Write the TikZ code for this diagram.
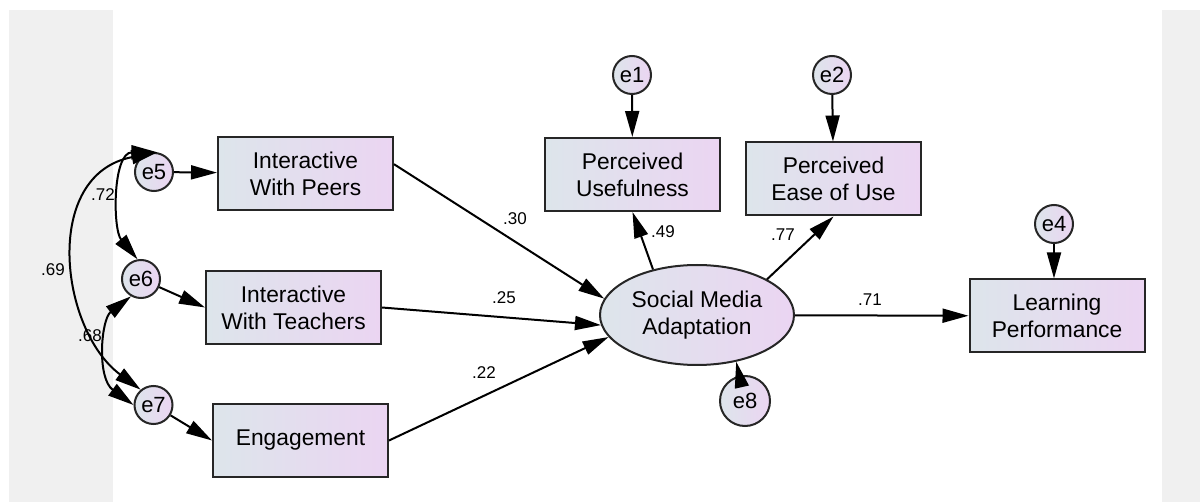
\documentclass[tikz,border=0pt]{standalone}
\usepackage{fontspec}
\setmainfont{Liberation Sans}
\usetikzlibrary{arrows.meta,shapes.geometric,positioning}

\definecolor{boxL}{HTML}{DDE5EB}
\definecolor{boxR}{HTML}{EBD5F2}
\definecolor{pane}{HTML}{F0F0F0}

\tikzset{
  var/.style={draw=black!85,line width=1pt,left color=boxL,right color=boxR,
    minimum width=87.5pt,minimum height=36.5pt,inner sep=0pt,align=center,
    font=\fontsize{11.4}{13.5}\selectfont},
  latent/.style={ellipse,draw=black!85,line width=1pt,left color=boxL,right color=boxR,
    minimum width=97pt,minimum height=50pt,inner sep=0pt,align=center,
    font=\fontsize{11.4}{13.5}\selectfont},
  err/.style={circle,draw=black!85,line width=1pt,left color=boxL,right color=boxR,
    minimum size=19pt,inner sep=0pt,font=\fontsize{11}{12}\selectfont},
  path/.style={line width=1pt,-{Triangle[length=13pt,width=7pt]}},
  cov/.style={line width=1pt,{Triangle[length=13pt,width=7pt]}-{Triangle[length=13pt,width=7pt]}},
  lbl/.style={inner sep=0pt,font=\fontsize{8.5}{9}\selectfont}
}

\begin{document}
\begin{tikzpicture}[x=0.5pt,y=-0.5pt]
\useasboundingbox (0,0) rectangle (1200,502);
\fill[white] (0,0) rectangle (1200,502);
\fill[pane] (9,10) rectangle (113,502);
\fill[pane] (1162,10) rectangle (1200,502);

% observed variables
\node[var] (peers) at (305.5,173.5) {Interactive\\With Peers};
\node[var] (teachers) at (293.5,307.5) {Interactive\\With Teachers};
\node[var] (engage) at (300.5,440.5) {Engagement};
\node[var] (pu) at (632.5,174.5) {Perceived\\Usefulness};
\node[var] (peou) at (833.5,179) {Perceived\\Ease of Use};
\node[var] (lp) at (1057,316) {Learning\\Performance};
% latent
\node[latent] (sma) at (697,315) {Social Media\\Adaptation};
% errors
\node[err] (e1) at (632,75) {e1};
\node[err] (e2) at (832,75) {e2};
\node[err] (e4) at (1054,224) {e4};
\node[err] (e5) at (154,172) {e5};
\node[err] (e6) at (141,279) {e6};
\node[err] (e7) at (153.5,405) {e7};
\node[err,minimum size=25pt] (e8) at (745,401) {e8};

% regressions
\draw[path] (e1) -- (pu);
\draw[path] (e2) -- (peou);
\draw[path] (e4) -- (e4 |- lp.north);
\draw[path] (e5) -- (peers);
\draw[path] (e6) -- (teachers.west);
\draw[path] (e7) -- (engage.west);
\draw[path] (e8) -- (sma.310);
\draw[path] (peers.6) -- (sma.170);
\draw[path] (teachers.east) -- (sma.186);
\draw[path] (engage.east) -- (sma.194);
\draw[path] (sma.134) -- (pu.south);
\draw[path] (sma.27) -- (peou.south);
\draw[path] (sma) -- (lp);

% covariances
\draw[cov] (e5.80) .. controls +(-45,0) and +(-25,-30) .. (e6.100);
\draw[cov] (e5.80) .. controls +(-116,22) and +(-81,-60) .. (e7.130);
\draw[cov] (e6.240) .. controls +(-30,23) and +(-37,-27) .. (e7.180);

% estimates
\node[lbl] (b30) at (515,219) {.30};
\node[lbl] (b25) at (504,298) {.25};
\node[lbl] (b22) at (484,373) {.22};
\node[lbl] (b49) at (663,232) {.49};
\node[lbl] (b77) at (783,235) {.77};
\node[lbl] (b71) at (870,300) {.71};
\node[lbl] (c72) at (103,195) {.72};
\node[lbl] (c69) at (53,270) {.69};
\node[lbl] (c68) at (90,336) {.68};
\end{tikzpicture}
\end{document}
